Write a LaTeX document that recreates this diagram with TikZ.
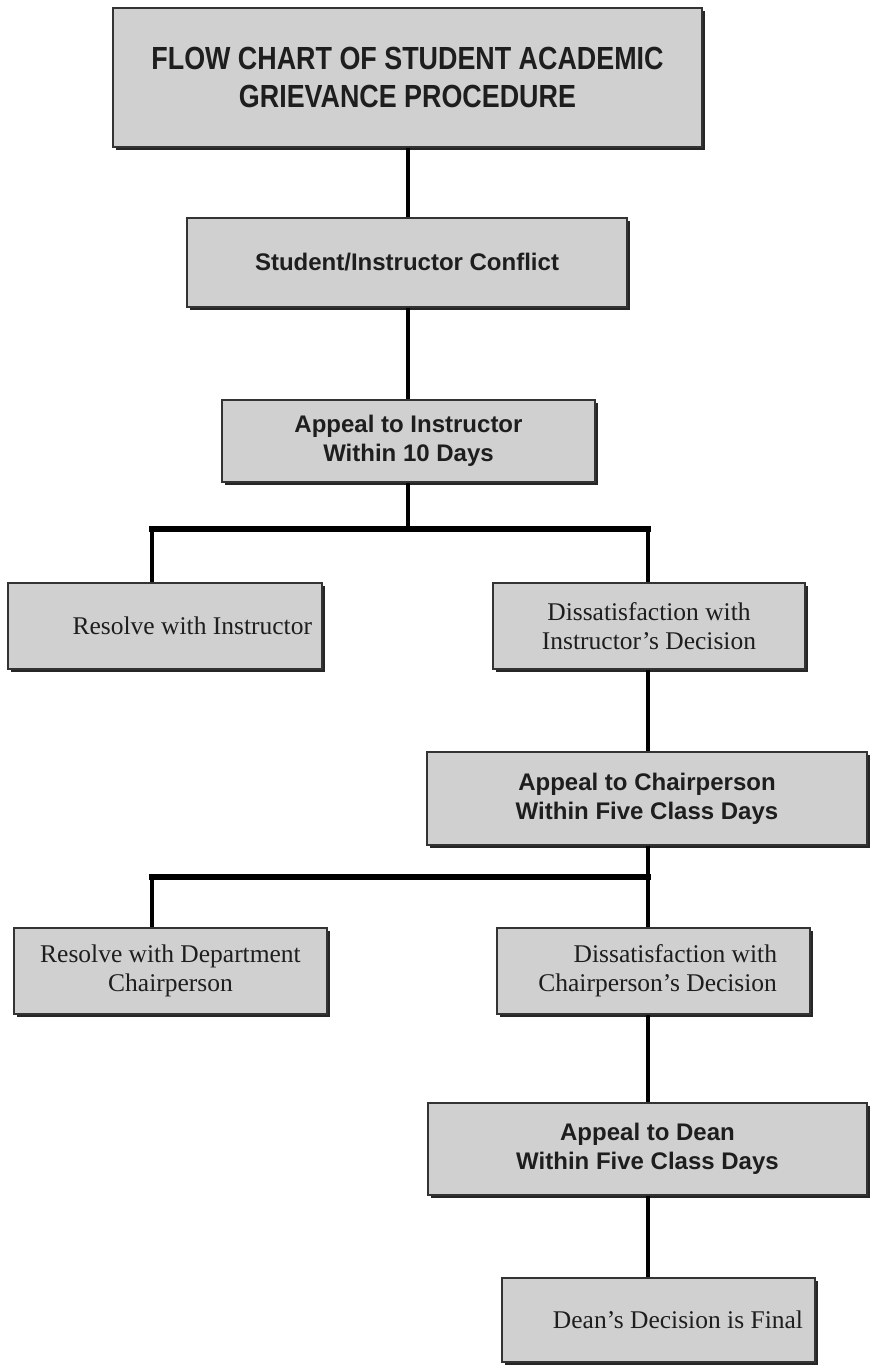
\documentclass[tikz,border=0pt]{standalone}
\usepackage{fontspec}
\setmainfont{Liberation Serif}
\setsansfont{Liberation Sans}
\newfontfamily\titlefont[FakeStretch=0.84]{Liberation Sans}
\usetikzlibrary{shadows}
\definecolor{boxgray}{RGB}{208,208,208}
\definecolor{inkgray}{RGB}{30,30,30}

\tikzset{
  box/.style={rectangle, draw=black!80, line width=1.2pt, fill=boxgray, inner sep=0pt, text=inkgray,
    drop shadow={shadow xshift=3pt, shadow yshift=-3pt, opacity=1, fill=black!85}},
  titlebox/.style={box, font=\titlefont\bfseries\fontsize{32}{38}\selectfont, align=center},
  boldbox/.style={box, font=\sffamily\bfseries\fontsize{24}{29}\selectfont, align=center},
  plainbox/.style={box, font=\fontsize{25.5}{29}\selectfont},
  link/.style={line width=4pt},
  bar/.style={line width=5.5pt, line cap=rect}
}

\begin{document}
\begin{tikzpicture}[x=1pt,y=-1pt]

  \path[use as bounding box, fill=white] (0,0) rectangle (875,1368);

  % boxes
  \node[titlebox, minimum width=589pt, minimum height=139pt] (title) at (407.5,77.5)
    {FLOW CHART OF STUDENT ACADEMIC\\GRIEVANCE PROCEDURE};
  \node[boldbox, minimum width=440pt, minimum height=89pt] (conflict) at (407,262.5)
    {Student/Instructor Conflict};
  \node[boldbox, minimum width=373pt, minimum height=82pt] (appinst) at (408.5,441)
    {Appeal to Instructor\\Within 10 Days};
  \node[plainbox, text width=294pt, inner xsep=10pt, align=flush right, minimum height=86pt] (resinst) at (165,626)
    {Resolve with Instructor};
  \node[plainbox, minimum width=312pt, minimum height=86pt, align=center] (dissinst) at (649,626)
    {Dissatisfaction with\\Instructor’s Decision};
  \node[boldbox, minimum width=440pt, minimum height=93pt] (appchair) at (647,798.5)
    {Appeal to Chairperson\\Within Five Class Days};
  \node[plainbox, minimum width=313pt, minimum height=86pt, align=center] (reschair) at (170.5,971)
    {Resolve with Department\\Chairperson};
  \node[plainbox, text width=247pt, inner xsep=33pt, align=flush right, minimum height=86pt] (disschair) at (653.5,971)
    {Dissatisfaction with\\Chairperson’s Decision};
  \node[boldbox, minimum width=439pt, minimum height=92pt] (appdean) at (647.5,1149)
    {Appeal to Dean\\Within Five Class Days};
  \node[plainbox, text width=289pt, inner xsep=12pt, align=flush right, minimum height=84pt] (final) at (658.5,1320)
    {Dean’s Decision is Final};

  % trunks and forks
  \coordinate (upper) at (408,0);
  \coordinate (lower) at (648,0);
  \coordinate (left)  at (152,0);
  \coordinate (fork1) at (648,529);
  \coordinate (fork2) at (648,877);

  % connectors
  \draw[link] (upper |- title.south) -- (upper |- conflict.north);
  \draw[link] (upper |- conflict.south) -- (upper |- appinst.north);
  \draw[link] (upper |- appinst.south) -- (upper |- fork1);
  \draw[bar] (left |- fork1) -- (fork1);
  \draw[link] (left |- fork1) -- (left |- resinst.north);
  \draw[link] (fork1) -- (lower |- dissinst.north);
  \draw[link] (lower |- dissinst.south) -- (lower |- appchair.north);
  \draw[link] (lower |- appchair.south) -- (fork2);
  \draw[bar] (left |- fork2) -- (fork2);
  \draw[link] (left |- fork2) -- (left |- reschair.north);
  \draw[link] (fork2) -- (lower |- disschair.north);
  \draw[link] (lower |- disschair.south) -- (lower |- appdean.north);
  \draw[link] (lower |- appdean.south) -- (lower |- final.north);

\end{tikzpicture}
\end{document}
